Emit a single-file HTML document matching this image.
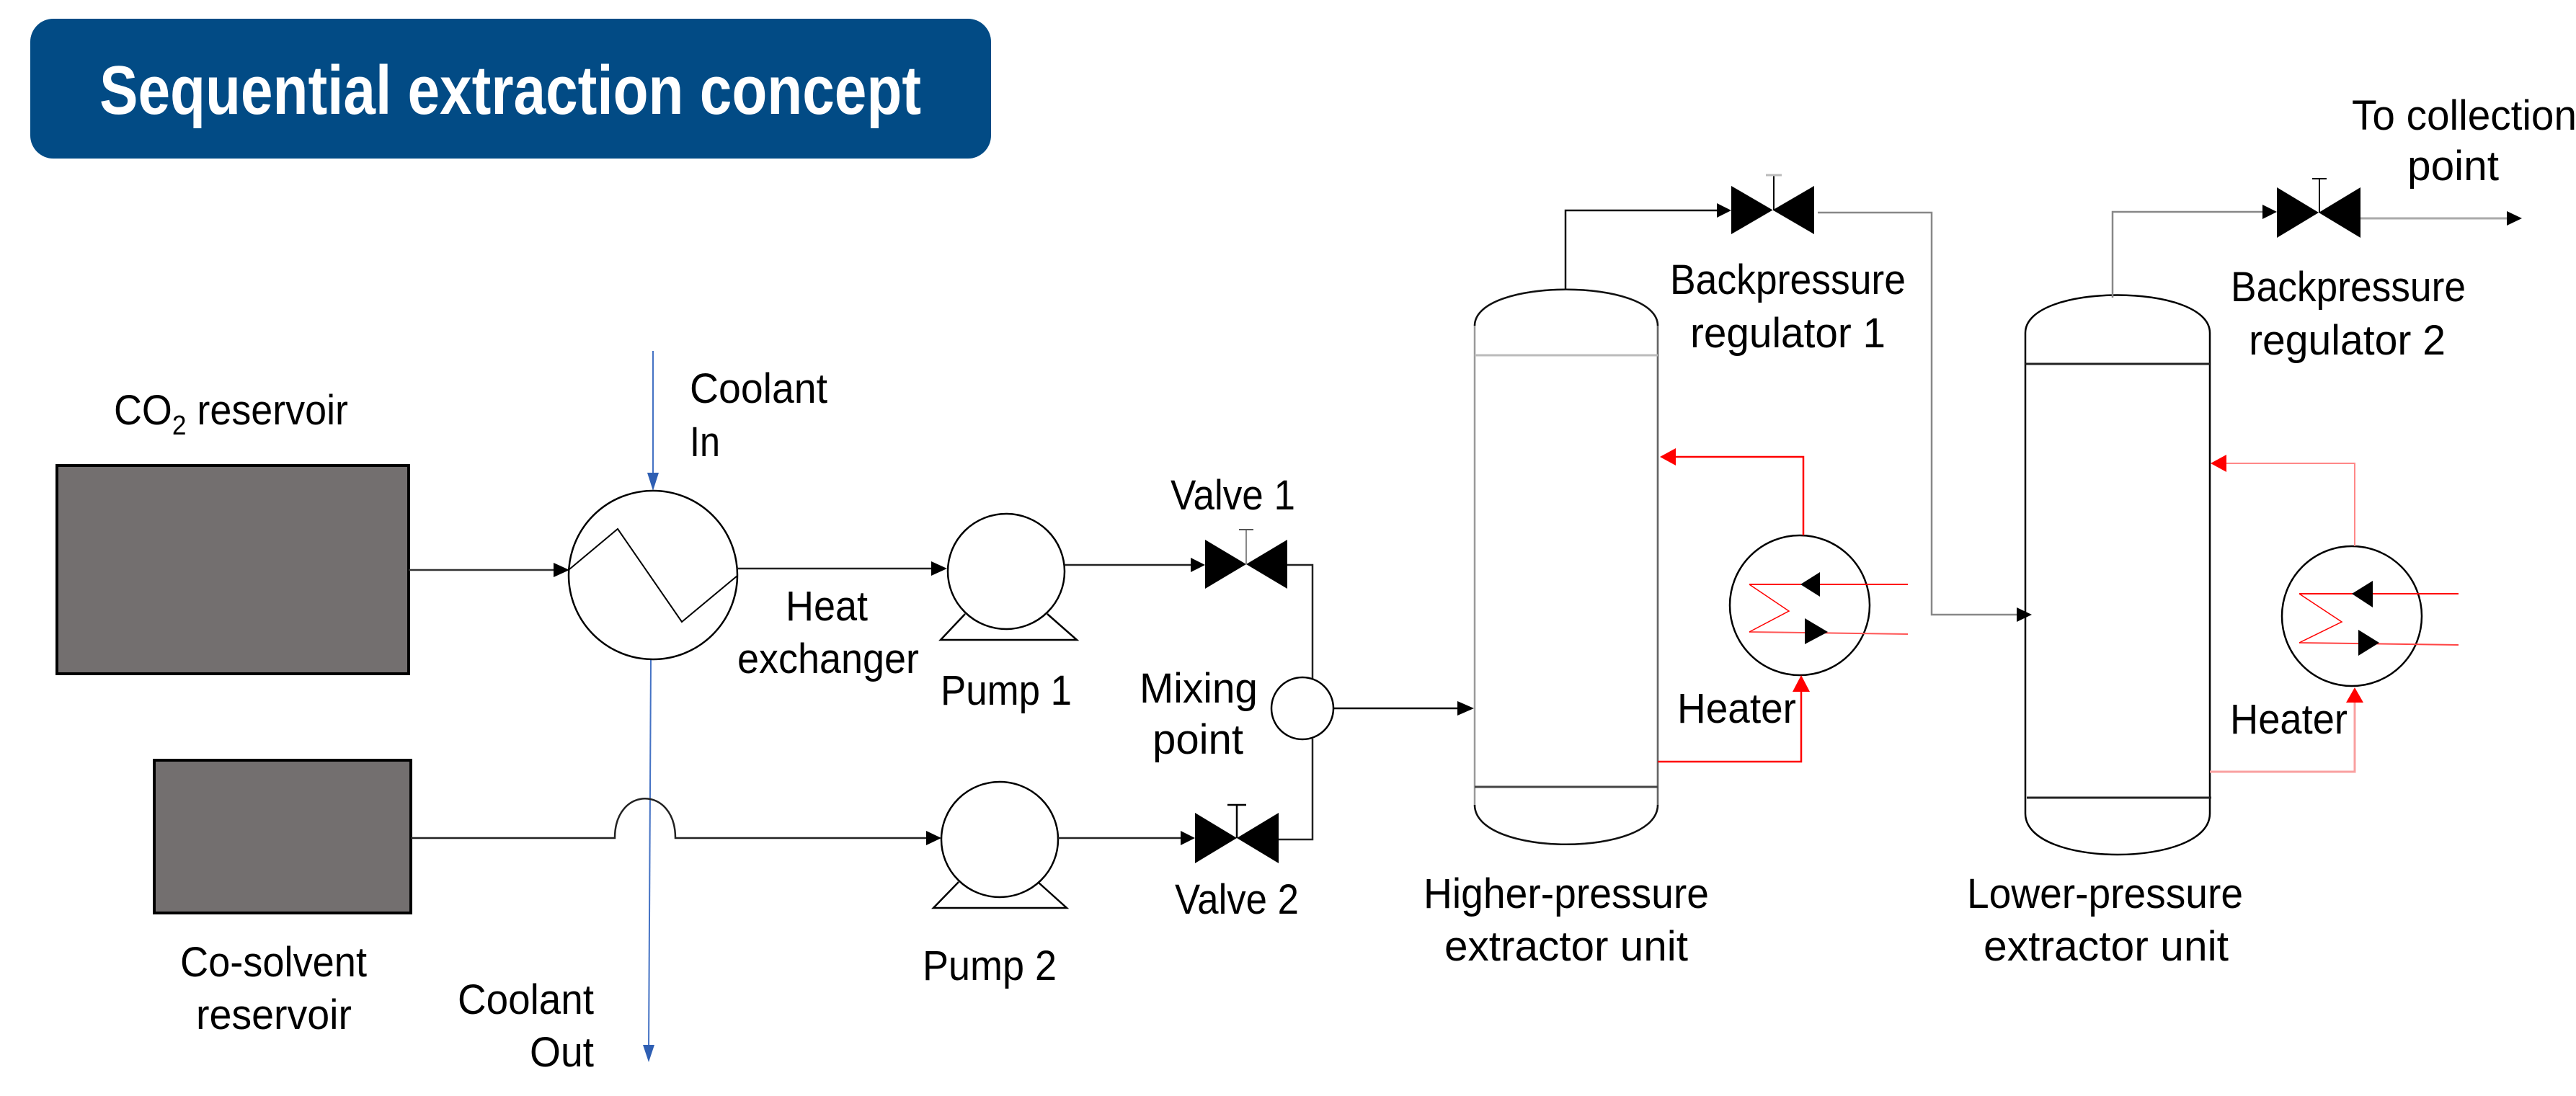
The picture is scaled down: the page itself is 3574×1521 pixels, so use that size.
<!DOCTYPE html>
<html><head><meta charset="utf-8"><style>
html,body{margin:0;padding:0;background:#fff;}
svg{display:block;}
text{font-family:"Liberation Sans",sans-serif;fill:#000;}
</style></head><body>
<svg width="3574" height="1521" viewBox="0 0 3574 1521" xmlns="http://www.w3.org/2000/svg">
<!-- Title -->
<rect x="42" y="26" width="1333" height="194" rx="32" fill="#024b85"/>
<text x="138" y="158" font-size="96" font-weight="bold" style="fill:#fff" textLength="1140" lengthAdjust="spacingAndGlyphs">Sequential extraction concept</text>

<g font-size="58">
<!-- Reservoirs -->
<text x="158" y="589" textLength="325" lengthAdjust="spacingAndGlyphs">CO<tspan font-size="38" dy="14">2</tspan><tspan dy="-14"> reservoir</tspan></text>
<rect x="79" y="646" width="488" height="289" fill="#736f6f" stroke="#000" stroke-width="4"/>
<rect x="214" y="1055" width="356" height="212" fill="#736f6f" stroke="#000" stroke-width="4"/>
<text x="250" y="1355" textLength="259" lengthAdjust="spacingAndGlyphs">Co-solvent</text>
<text x="272" y="1428" textLength="216" lengthAdjust="spacingAndGlyphs">reservoir</text>

<!-- Coolant -->
<line x1="906" y1="487" x2="906" y2="660" stroke="#4472c4" stroke-width="2"/>
<polygon points="898,656 914,656 906,681" fill="#2f5fb3"/>
<line x1="903" y1="915" x2="900" y2="1455" stroke="#4472c4" stroke-width="2"/>
<polygon points="892,1450 908,1450 900,1474" fill="#2f5fb3"/>
<text x="957" y="559" textLength="191" lengthAdjust="spacingAndGlyphs">Coolant</text>
<text x="957" y="633" textLength="42" lengthAdjust="spacingAndGlyphs">In</text>
<text x="635" y="1407" textLength="189" lengthAdjust="spacingAndGlyphs">Coolant</text>
<text x="735" y="1480" textLength="89" lengthAdjust="spacingAndGlyphs">Out</text>

<!-- Heat exchanger -->
<ellipse cx="906" cy="798" rx="117" ry="117" fill="none" stroke="#000" stroke-width="2.5"/>
<polyline points="790,790 857,734 946,863 1023,799" fill="none" stroke="#000" stroke-width="2"/>
<line x1="567" y1="791" x2="770" y2="791" stroke="#333" stroke-width="2.5"/>
<polygon points="768,781 768,801 790,791" fill="#000"/>
<text x="1090" y="861" textLength="114" lengthAdjust="spacingAndGlyphs">Heat</text>
<text x="1023" y="934" textLength="252" lengthAdjust="spacingAndGlyphs">exchanger</text>
<line x1="1023" y1="789" x2="1292" y2="789" stroke="#222" stroke-width="2.5"/>
<polygon points="1292,779 1292,799 1314,789" fill="#000"/>

<!-- Pump 1 -->
<ellipse cx="1396" cy="793" rx="81" ry="80" fill="none" stroke="#000" stroke-width="2.5"/>
<polyline points="1339,852 1305,888 1494,888 1453,852" fill="none" stroke="#000" stroke-width="2.5"/>
<text x="1305" y="978" textLength="182" lengthAdjust="spacingAndGlyphs">Pump 1</text>
<line x1="1477" y1="784" x2="1652" y2="784" stroke="#222" stroke-width="2.5"/>
<polygon points="1652,774 1652,794 1672,784" fill="#000"/>

<!-- Valve 1 -->
<polygon points="1672,749 1672,817 1786,749 1786,817" fill="#000"/>
<line x1="1729" y1="735" x2="1729" y2="783" stroke="#888" stroke-width="2"/>
<line x1="1719" y1="735" x2="1739" y2="735" stroke="#555" stroke-width="2"/>
<text x="1624" y="707" textLength="173" lengthAdjust="spacingAndGlyphs">Valve 1</text>
<polyline points="1786,784 1821,784 1821,942" fill="none" stroke="#222" stroke-width="2.5"/>

<!-- Mixing -->
<circle cx="1807" cy="983" r="43" fill="none" stroke="#000" stroke-width="2.5"/>
<text x="1581" y="975" textLength="164" lengthAdjust="spacingAndGlyphs">Mixing</text>
<text x="1599" y="1046" textLength="126" lengthAdjust="spacingAndGlyphs">point</text>
<line x1="1850" y1="983" x2="2024" y2="983" stroke="#000" stroke-width="2.5"/>
<polygon points="2022,973 2022,993 2045,983" fill="#000"/>

<!-- Co-solvent line with hop -->
<path d="M570,1163 L853,1163 C853,1090 937,1090 937,1163 L1286,1163" fill="none" stroke="#222" stroke-width="2.5"/>
<polygon points="1285,1153 1285,1173 1306,1163" fill="#000"/>

<!-- Pump 2 -->
<ellipse cx="1387" cy="1165" rx="81" ry="80" fill="none" stroke="#000" stroke-width="2.5"/>
<polyline points="1330,1224 1295,1260 1480,1260 1440,1224" fill="none" stroke="#000" stroke-width="2.5"/>
<text x="1280" y="1360" textLength="186" lengthAdjust="spacingAndGlyphs">Pump 2</text>
<line x1="1468" y1="1163" x2="1638" y2="1163" stroke="#222" stroke-width="2.5"/>
<polygon points="1638,1153 1638,1173 1658,1163" fill="#000"/>

<!-- Valve 2 -->
<polygon points="1658,1128 1658,1198 1774,1128 1774,1198" fill="#000"/>
<line x1="1716" y1="1117" x2="1716" y2="1163" stroke="#000" stroke-width="2.5"/>
<line x1="1703" y1="1117" x2="1729" y2="1117" stroke="#000" stroke-width="2.5"/>
<text x="1630" y="1268" textLength="172" lengthAdjust="spacingAndGlyphs">Valve 2</text>
<polyline points="1774,1165 1821,1165 1821,1025" fill="none" stroke="#222" stroke-width="2.5"/>

<!-- HP extractor -->
<path d="M2046,452 C2046,385 2300,385 2300,452 L2300,1117 C2300,1190 2046,1190 2046,1117 Z" fill="none" stroke="#999" stroke-width="2.5"/>
<path d="M2300,452 L2300,1117" stroke="#666" stroke-width="2.5"/>
<path d="M2046,452 C2046,385 2300,385 2300,452" fill="none" stroke="#111" stroke-width="2.5"/>
<path d="M2046,1117 C2046,1190 2300,1190 2300,1117" fill="none" stroke="#111" stroke-width="2.5"/>
<line x1="2046" y1="493" x2="2300" y2="493" stroke="#bbb" stroke-width="3"/>
<line x1="2046" y1="1092" x2="2300" y2="1092" stroke="#444" stroke-width="3"/>
<text x="1975" y="1260" textLength="396" lengthAdjust="spacingAndGlyphs">Higher-pressure</text>
<text x="2004" y="1333" textLength="338" lengthAdjust="spacingAndGlyphs">extractor unit</text>

<!-- HP outlet / BPR1 -->
<polyline points="2172,403 2172,292 2384,292" fill="none" stroke="#111" stroke-width="2.5"/>
<polygon points="2382,282 2382,302 2402,292" fill="#000"/>
<polygon points="2402,258 2402,325 2517,258 2517,325" fill="#000"/>
<line x1="2461" y1="243" x2="2461" y2="292" stroke="#000" stroke-width="2"/>
<line x1="2450" y1="243" x2="2472" y2="243" stroke="#bbb" stroke-width="3"/>
<text x="2317" y="408" textLength="327" lengthAdjust="spacingAndGlyphs">Backpressure</text>
<text x="2345" y="482" textLength="271" lengthAdjust="spacingAndGlyphs">regulator 1</text>
<polyline points="2522,295 2680,295 2680,853 2800,853" fill="none" stroke="#888" stroke-width="2.5"/>
<polygon points="2798,843 2798,863 2819,853" fill="#000"/>

<!-- HP heater -->
<circle cx="2497" cy="840" r="97" fill="none" stroke="#000" stroke-width="2.5"/>
<polyline points="2502,743 2502,634 2320,634" fill="none" stroke="#f00" stroke-width="2.5"/>
<polygon points="2325,622 2325,646 2303,634" fill="#f00"/>
<polyline points="2300,1057 2499,1057 2499,958" fill="none" stroke="#f00" stroke-width="2.5"/>
<polygon points="2487,960 2511,960 2499,937" fill="#f00"/>
<line x1="2427" y1="811" x2="2647" y2="811" stroke="#f00" stroke-width="2"/>
<line x1="2427" y1="877" x2="2647" y2="880" stroke="#f55" stroke-width="2"/>
<polyline points="2427,811 2482,848 2427,877" fill="none" stroke="#f00" stroke-width="1.5"/>
<polygon points="2498,811 2525,794 2525,828" fill="#000"/>
<polygon points="2536,877 2504,858 2504,894" fill="#000"/>
<text x="2327" y="1003" textLength="165" lengthAdjust="spacingAndGlyphs">Heater</text>

<!-- LP extractor -->
<path d="M2810,462 C2810,392 3066,392 3066,462 L3066,1129 C3066,1205 2810,1205 2810,1129 Z" fill="none" stroke="#000" stroke-width="2.5"/>
<line x1="2810" y1="505" x2="3066" y2="505" stroke="#222" stroke-width="3"/>
<line x1="2812" y1="1107" x2="3068" y2="1107" stroke="#222" stroke-width="3"/>
<text x="2729" y="1260" textLength="383" lengthAdjust="spacingAndGlyphs">Lower-pressure</text>
<text x="2752" y="1333" textLength="340" lengthAdjust="spacingAndGlyphs">extractor unit</text>

<!-- LP outlet / BPR2 -->
<polyline points="2931,413 2931,294 3140,294" fill="none" stroke="#888" stroke-width="2.5"/>
<polygon points="3139,284 3139,304 3159,294" fill="#000"/>
<polygon points="3159,260 3159,330 3275,260 3275,330" fill="#000"/>
<line x1="3218" y1="248" x2="3218" y2="295" stroke="#000" stroke-width="2"/>
<line x1="3208" y1="248" x2="3228" y2="248" stroke="#000" stroke-width="2"/>
<line x1="3275" y1="303" x2="3480" y2="303" stroke="#aaa" stroke-width="3"/>
<polygon points="3478,293 3478,313 3499,303" fill="#000"/>
<text x="3263" y="180" textLength="312" lengthAdjust="spacingAndGlyphs">To collection</text>
<text x="3340" y="250" textLength="127" lengthAdjust="spacingAndGlyphs">point</text>
<text x="3095" y="418" textLength="326" lengthAdjust="spacingAndGlyphs">Backpressure</text>
<text x="3120" y="492" textLength="273" lengthAdjust="spacingAndGlyphs">regulator 2</text>

<!-- LP heater -->
<ellipse cx="3263" cy="855" rx="97" ry="97" fill="none" stroke="#000" stroke-width="2.5"/>
<polyline points="3267,758 3267,643 3085,643" fill="none" stroke="#f88" stroke-width="2"/>
<polygon points="3089,631 3089,655 3067,643" fill="#f00"/>
<polyline points="3066,1071 3267,1071 3267,975" fill="none" stroke="#f9a0a0" stroke-width="3"/>
<polygon points="3255,975 3279,975 3267,954" fill="#f00"/>
<line x1="3190" y1="824" x2="3411" y2="824" stroke="#f00" stroke-width="2"/>
<line x1="3190" y1="892" x2="3411" y2="895" stroke="#f44" stroke-width="2"/>
<polyline points="3190,824 3249,863 3190,892" fill="none" stroke="#f00" stroke-width="1.5"/>
<polygon points="3263,824 3292,806 3292,843" fill="#000"/>
<polygon points="3301,892 3272,874 3272,910" fill="#000"/>
<text x="3094" y="1018" textLength="163" lengthAdjust="spacingAndGlyphs">Heater</text>
</g>
</svg>
</body></html>
